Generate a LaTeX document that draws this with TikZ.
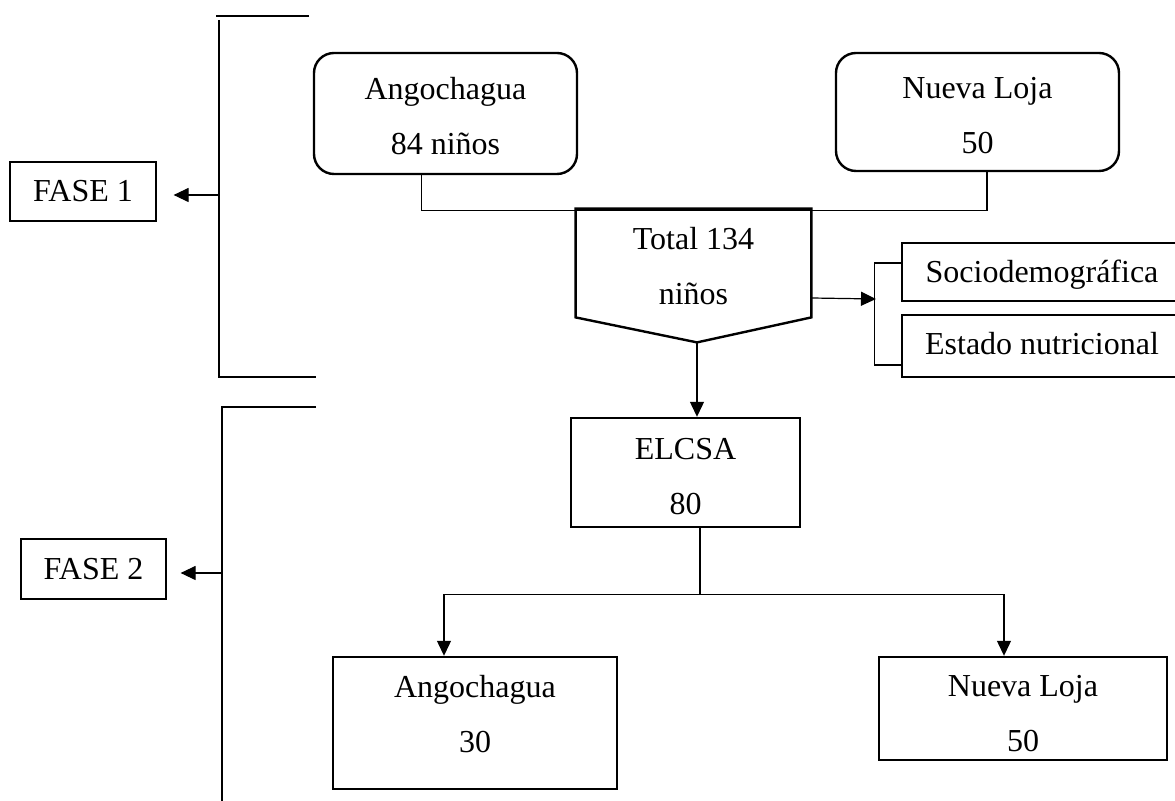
\documentclass[tikz,border=0pt]{standalone}
\usepackage{fontspec}
\setmainfont{Liberation Serif}
\usetikzlibrary{arrows.meta}

\begin{document}
\begin{tikzpicture}[x=0.5pt, y=-0.5pt,
    font=\fontsize{16}{27.5}\selectfont,
    caja/.style={draw, line width=1.2pt, align=center, inner sep=0pt, text height=#1, text depth=0pt},
    caja/.default=10.5pt,
    fase/.style={draw, line width=0.6pt, inner sep=0pt, text height=#1, text depth=0pt},
    linea/.style={line width=0.6pt},
    flecha/.style={line width=0.6pt, -{Triangle[length=7.5pt, width=7pt]}}]
    \useasboundingbox (0,0) rectangle (1175,801);
    \clip (0,0) rectangle (1175,801);

    \node[fase=10.5pt, minimum width=73pt, minimum height=29.5pt] (fase1) at (83,191.5) {FASE 1};
    \node[fase=11pt, minimum width=72.5pt, minimum height=30pt] (fase2) at (93.5,569) {FASE 2};

    \node[caja=41.5pt, rounded corners=10pt, minimum width=131.5pt, minimum height=60.5pt] (angA) at (445.5,113.5) {Angochagua\\84 niños};
    \node[caja=42pt, rounded corners=10pt, minimum width=141.5pt, minimum height=59pt] (nlA) at (977.5,112) {Nueva Loja\\50};
    \node[caja=11pt, minimum width=140pt, minimum height=29pt] (socio) at (1042,272) {Sociodemográfica};
    \node[caja=9pt, minimum width=140pt, minimum height=31pt] (estado) at (1042,346) {Estado nutricional};
    \node[caja=42.5pt, minimum width=114.5pt, minimum height=54.5pt] (elcsa) at (685.5,472.5) {ELCSA\\80};
    \node[caja=30pt, minimum width=142pt, minimum height=66pt] (angB) at (475,723) {Angochagua\\30};
    \node[caja=43.5pt, minimum width=144pt, minimum height=51.5pt] (nlB) at (1023,708.5) {Nueva Loja\\50};

    \node[align=center, inner sep=0pt, minimum width=117.5pt, minimum height=54pt, text height=42pt, text depth=0pt] (total) at (693.5,263) {Total 134\\niños};
    \coordinate (punta) at ([xshift=1.75pt, yshift=-12.5pt]total.south);
    \draw[line width=1.2pt] (total.north west) -- (total.north east) -- (total.south east) -- (punta) -- (total.south west) -- cycle;

    \draw[linea] (309,16) -- (216,16);
    \draw[linea] (219,20) -- (219,377) -- (316,377);
    \coordinate (b1) at (219,195);
    \draw[flecha, shorten >=8.5pt] (b1) -- (b1 -| fase1.east);

    \draw[linea] (316,407) -- (222,407) -- (222,801);
    \coordinate (b2) at (222,573);
    \draw[flecha, shorten >=7pt] (b2) -- (b2 -| fase2.east);

    \draw[linea] ([xshift=-12pt]angA.south) -- ++(0,35) -| ([xshift=4.75pt]nlA.south);

    \coordinate (llave) at (876,299);
    \draw[flecha] ([yshift=-17.5pt]total.east) -- (llave);
    \draw[linea] ([yshift=4.5pt]socio.west) -- ++(-26,0) |- ([yshift=-9.5pt]estado.west);

    \draw[flecha] (punta) -- (punta |- elcsa.north);

    \draw[linea] ([xshift=7.25pt]elcsa.south) -- ++(0,66) coordinate (rama);
    \draw[flecha] (rama) -| ([xshift=-15.5pt]angB.north);
    \draw[flecha] (rama) -| ([xshift=-9.5pt]nlB.north);
\end{tikzpicture}
\end{document}
